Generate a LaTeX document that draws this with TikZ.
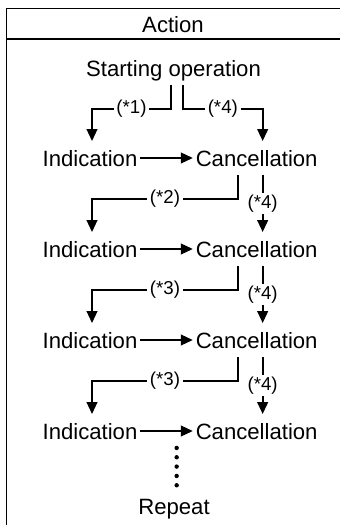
\documentclass[tikz,border=0pt]{standalone}
\usepackage{fontspec}
\setmainfont{Liberation Sans}
\usetikzlibrary{positioning,arrows.meta}

\begin{document}
\begin{tikzpicture}[x=0.75pt,y=-0.75pt,on grid,
    txt/.style={font=\fontsize{16.6}{19}\selectfont, text height=12pt, text depth=0pt,
        inner xsep=2pt, inner ysep=6.5pt},
    lbl/.style={font=\fontsize{14}{16}\selectfont, fill=white, inner xsep=2pt, inner ysep=1.5pt},
    arr/.style={line width=1.5pt, -{Triangle[length=9pt,width=8pt]}},
    dotline/.style={line width=3.3pt, line cap=round, dash pattern=on 0pt off 7pt}]
    \useasboundingbox (0,0) rectangle (340,525);
    % frame and header
    \draw[line width=1.1pt] (340,8.5) -- (6.5,8.5) -- (6.5,525);
    \draw[line width=1.1pt] (6.5,39) -- (340,39);
    \node[txt] (A) at (173,24) {Action};
    \node[txt] (S) at (173.5,68) {Starting operation};
    \node[txt] (I1) at (90,158) {Indication};
    \node[txt] (C1) [right=125pt of I1] {Cancellation};
    \node[txt] (I2) [below=68.25pt of I1] {Indication};
    \node[txt] (C2) [right=125pt of I2] {Cancellation};
    \node[txt] (I3) [below=68.25pt of I2] {Indication};
    \node[txt] (C3) [right=125pt of I3] {Cancellation};
    \node[txt] (I4) [below=68.25pt of I3] {Indication};
    \node[txt] (C4) [right=125pt of I4] {Cancellation};
    \node[txt] (Rp) at (174,506) {Repeat};
    % from the start
    \draw[arr] ([xshift=-1.9pt]S.south) -- ++(0,24) -| node[lbl,pos=0.25]{(*1)} ([xshift=1.5pt]I1.north);
    \draw[arr] ([xshift=7.1pt]S.south) -- ++(0,24) -| node[lbl,pos=0.25]{(*4)} ([xshift=4.5pt]C1.north);
    % rows
    \draw[arr] (I1) -- (C1);
    \draw[arr] ([xshift=-14pt]C1.south) -- ++(0,24) -| node[lbl,pos=0.25]{(*2)} ([xshift=1.5pt]I2.north);
    \draw[arr] ([xshift=4.5pt]C1.south) -- node[lbl]{(*4)} ([xshift=4.5pt]C2.north);
    \draw[arr] (I2) -- (C2);
    \draw[arr] ([xshift=-14pt]C2.south) -- ++(0,24) -| node[lbl,pos=0.25]{(*3)} ([xshift=1.5pt]I3.north);
    \draw[arr] ([xshift=4.5pt]C2.south) -- node[lbl]{(*4)} ([xshift=4.5pt]C3.north);
    \draw[arr] (I3) -- (C3);
    \draw[arr] ([xshift=-14pt]C3.south) -- ++(0,24) -| node[lbl,pos=0.25]{(*3)} ([xshift=1.5pt]I4.north);
    \draw[arr] ([xshift=4.5pt]C3.south) -- node[lbl]{(*4)} ([xshift=4.5pt]C4.north);
    \draw[arr] (I4) -- (C4);
    % repeat
    \draw[dotline] ([xshift=2pt]Rp.north |- I4.south) -- ([xshift=2pt]Rp.north);
\end{tikzpicture}
\end{document}
